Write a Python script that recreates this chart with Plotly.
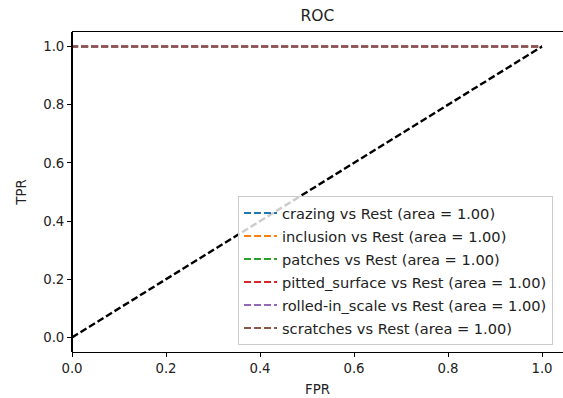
import plotly.graph_objects as go

# ---- data ----
classes = ["crazing", "inclusion", "patches", "pitted_surface", "rolled-in_scale", "scratches"]
aucs = [1.00, 1.00, 1.00, 1.00, 1.00, 1.00]
fpr_curves = [[0.0, 0.0, 1.0]] * 6
tpr_curves = [[0.0, 1.0, 1.0]] * 6
diag_x = [0.0, 1.0]
diag_y = [0.0, 1.0]
xticks = [0.0, 0.2, 0.4, 0.6, 0.8, 1.0]
yticks = [0.0, 0.2, 0.4, 0.6, 0.8, 1.0]

colors = ["#1f77b4", "#ff7f0e", "#2ca02c", "#d62728", "#9467bd", "#8c564b"]
FONT = "DejaVu Sans"
FS = 13.3

fig = go.Figure()
for i, (c, a) in enumerate(zip(classes, aucs)):
    fig.add_trace(go.Scatter(
        x=fpr_curves[i], y=tpr_curves[i], mode="lines",
        name=f"{c} vs Rest (area = {a:.2f})",
        line=dict(color=colors[i], width=2, dash="7px,3px"),
        legendgroup=f"g{i}",
    ))
fig.add_trace(go.Scatter(
    x=diag_x, y=diag_y, mode="lines", showlegend=False,
    line=dict(color="black", width=2.4, dash="7px,3px"),
))

# left spine (drawn as a paper-referenced line so it sits on top of the edge)
fig.add_shape(type="line", xref="paper", yref="paper", x0=0, x1=0, y0=0, y1=1,
              line=dict(color="black", width=2), layer="above")

fig.update_layout(
    width=563, height=398,
    margin=dict(l=72, r=0, t=32, b=46),
    paper_bgcolor="white", plot_bgcolor="white",
    font=dict(family=FONT, size=FS, color="#222"),
    title=dict(text="ROC", x=0.5, xref="paper", y=1 - 16 / 398, yref="container",
               xanchor="center", yanchor="middle", font=dict(size=15.5, color="#222")),
    legend=dict(
        x=(238 - 72) / 491, y=(352 - 345) / 320, xanchor="left", yanchor="bottom",
        bgcolor="rgba(255,255,255,0.8)", bordercolor="#cccccc", borderwidth=1,
        font=dict(size=14.6, color="#222"), itemwidth=33, tracegroupgap=1,
    ),
    showlegend=True,
)
fig.update_xaxes(
    range=[0, 491 / 470], tickvals=xticks, ticktext=[f"{v:.1f}" for v in xticks],
    showgrid=False, zeroline=False, showline=True, linecolor="black", linewidth=1.3,
    mirror=True, ticks="outside", ticklen=4, tickcolor="black", tickwidth=1,
    title=dict(text="FPR", standoff=9, font=dict(size=FS)), automargin=False,
)
fig.update_yaxes(
    range=[-0.05, 1.05], tickvals=yticks, ticktext=[f"{v:.1f}" for v in yticks],
    showgrid=False, zeroline=False, showline=False,
    ticks="outside", ticklen=4, tickcolor="black", tickwidth=1,
    title=dict(text="TPR", standoff=13, font=dict(size=FS)), automargin=False,
)

fig.write_html("out.html")
